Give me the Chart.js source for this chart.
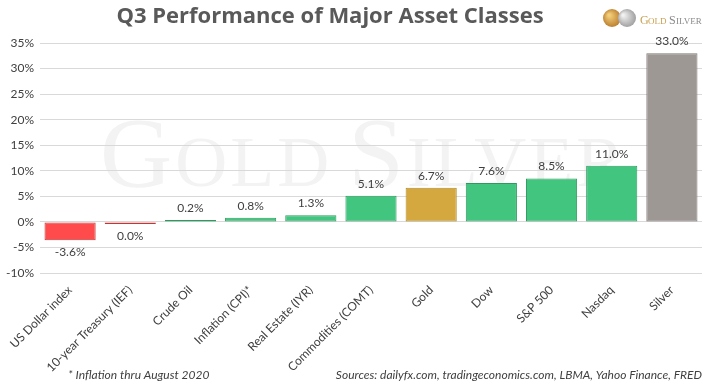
<!DOCTYPE html>
<html>
<head>
<meta charset="utf-8">
<script src="https://cdn.jsdelivr.net/npm/chart.js@4"></script>
<style>
  html, body { margin: 0; padding: 0; background: #fff; }
  canvas { display: block; }
</style>
</head>
<body>
<canvas id="grafica" width="712" height="389"></canvas>
<script>
const categorias = ['US Dollar index', '10-year Treasury (IEF)', 'Crude Oil', 'Inflation (CPI)*',
  'Real Estate (IYR)', 'Commodities (COMT)', 'Gold', 'Dow', 'S&P 500', 'Nasdaq', 'Silver'];
const valores = [-3.6, -0.04, 0.2, 0.8, 1.3, 5.1, 6.7, 7.6, 8.5, 11.0, 33.0];
const etiquetas = ['-3.6%', '0.0%', '0.2%', '0.8%', '1.3%', '5.1%', '6.7%', '7.6%', '8.5%', '11.0%', '33.0%'];
const ticksY = [-10, -5, 0, 5, 10, 15, 20, 25, 30, 35];

const fuente = 'Lato, "Open Sans", sans-serif';

const colorDe = (v, i) => {
  if (categorias[i] === 'Gold') return ['#d4a83e', '#b08a2a'];
  if (categorias[i] === 'Silver') return ['#9e9894', '#7d7774'];
  if (v < 0) return ['#ff4b4b', '#c43636'];
  return ['#42c57e', '#2f9a5f'];
};

// marca de agua, logo y notas al pie
const decoracion = {
  id: 'decoracion',
  beforeDraw(chart) {
    const c = chart.ctx;
    c.save();
    c.fillStyle = '#f3f3f3';
    c.textBaseline = 'alphabetic';
    c.textAlign = 'left';
    c.letterSpacing = '3px';
    let x = 100;
    const partes = [['G', 100], ['OLD', 72], ['S', 100], ['ILVER', 72]];
    partes.forEach(([t, s], k) => {
      c.font = s + 'px "Liberation Serif", serif';
      c.fillText(t, x, 186);
      x += c.measureText(t).width + (k === 1 ? 16 : 0);
    });
    c.restore();
  },
  afterDraw(chart) {
    const c = chart.ctx;
    c.save();
    // titulo
    c.fillStyle = '#595959';
    c.font = 'bold 22px "Open Sans", sans-serif';
    c.textAlign = 'center';
    c.textBaseline = 'middle';
    c.fillText('Q3 Performance of Major Asset Classes', 330, 17);
    // logo
    let g = c.createRadialGradient(609, 15, 1, 612, 18, 10);
    g.addColorStop(0, '#f3cf7a'); g.addColorStop(1, '#b7792a');
    c.fillStyle = g;
    c.beginPath(); c.arc(612, 18, 9, 0, Math.PI * 2); c.fill();
    g = c.createRadialGradient(623, 15, 1, 627, 18, 10);
    g.addColorStop(0, '#f1f1f1'); g.addColorStop(1, '#9a9a9a');
    c.fillStyle = g;
    c.beginPath(); c.arc(627, 18, 9, 0, Math.PI * 2); c.fill();
    c.textAlign = 'left';
    c.textBaseline = 'alphabetic';
    c.fillStyle = '#c8a252';
    c.font = '12px "Liberation Serif", serif';
    c.fillText('G', 640, 24);
    c.font = '9px "Liberation Serif", serif';
    c.fillText('OLD', 648, 24);
    c.fillStyle = '#8a8a8a';
    c.font = '12px "Liberation Serif", serif';
    c.fillText('S', 669, 24);
    c.font = '9px "Liberation Serif", serif';
    c.fillText('ILVER', 676, 24);
    // notas
    c.fillStyle = '#404040';
    c.font = 'italic 12px ' + fuente;
    c.fillText('* Inflation thru August 2020', 68, 379);
    c.textAlign = 'right';
    c.fillText('Sources: dailyfx.com, tradingeconomics.com, LBMA, Yahoo Finance, FRED', 702, 379);
    // etiquetas de datos
    const meta = chart.getDatasetMeta(0);
    c.textAlign = 'center';
    c.fillStyle = '#404040';
    c.font = '12px ' + fuente;
    meta.data.forEach((bar, i) => {
      if (valores[i] < 0) {
        c.textBaseline = 'top';
        c.fillText(etiquetas[i], bar.x, Math.max(bar.y, bar.base) + 6);
      } else {
        c.textBaseline = 'bottom';
        c.fillText(etiquetas[i], bar.x, bar.y - 6);
      }
    });
    c.restore();
  }
};

new Chart(document.getElementById('grafica'), {
  type: 'bar',
  data: {
    labels: categorias,
    datasets: [{
      data: valores,
      backgroundColor: valores.map((v, i) => colorDe(v, i)[0]),
      borderColor: valores.map((v, i) => colorDe(v, i)[1]),
      borderWidth: 1,
      borderSkipped: false,
      minBarLength: 2,
      categoryPercentage: 1,
      barPercentage: 0.85
    }]
  },
  options: {
    responsive: false,
    animation: false,
    devicePixelRatio: 1,
    layout: { padding: { top: 43, right: 10, bottom: 0, left: 0 } },
    scales: {
      x: {
        grid: { display: false },
        border: { display: false },
        afterFit(scale) { scale.height = 116; },
        ticks: {
          color: '#404040',
          padding: 2,
          font: { size: 12, family: fuente },
          minRotation: 45,
          maxRotation: 45,
          autoSkip: false
        }
      },
      y: {
        min: -10,
        max: 35,
        afterBuildTicks(axis) { axis.ticks = ticksY.map(v => ({ value: v })); },
        grid: { color: '#d9d9d9', drawTicks: false },
        border: { display: false },
        ticks: {
          color: '#404040',
          padding: 6,
          font: { size: 12, family: fuente },
          callback: v => v + '%'
        }
      }
    },
    plugins: {
      legend: { display: false },
      tooltip: { enabled: false }
    }
  },
  plugins: [decoracion]
});
</script>
</body>
</html>
